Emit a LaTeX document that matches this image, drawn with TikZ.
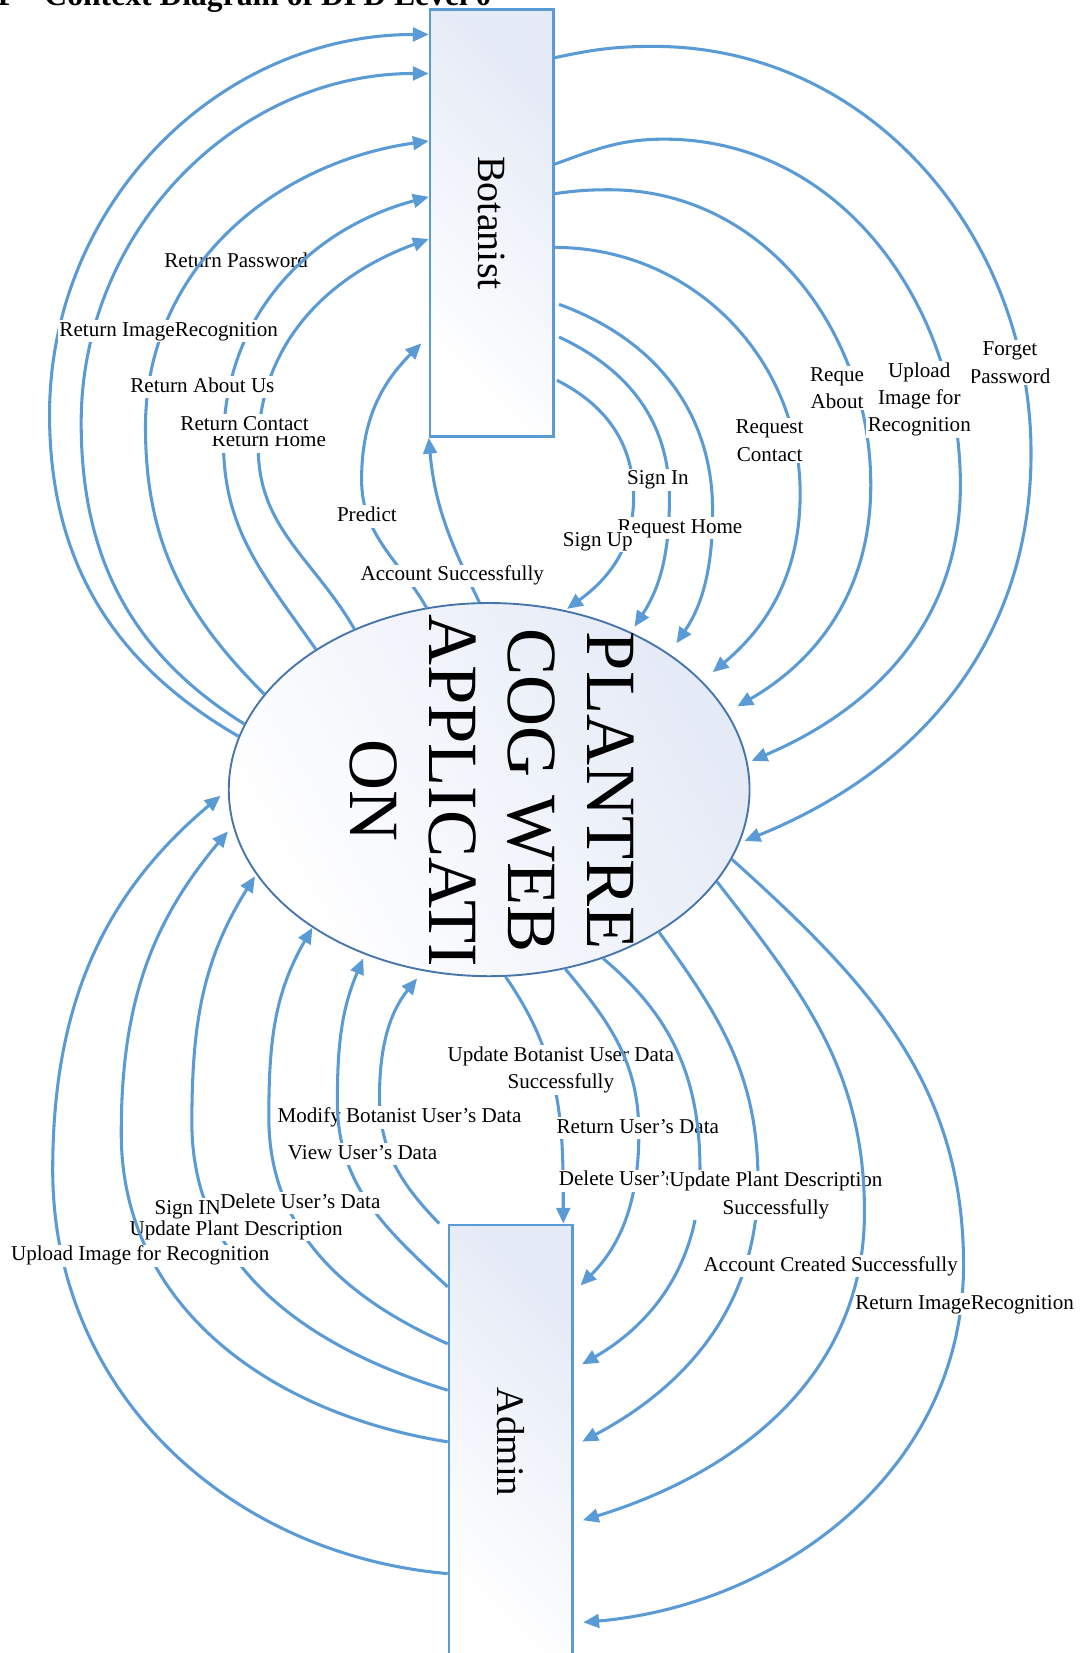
\documentclass[tikz,border=0pt]{standalone}
\usepackage{fontspec}
\setmainfont{Liberation Serif}
\usetikzlibrary{arrows.meta,shapes.geometric}
\definecolor{flowblue}{RGB}{91,155,213}
\definecolor{ellborder}{RGB}{72,118,170}
\definecolor{shadeblue}{RGB}{228,234,246}
\begin{document}
\begin{tikzpicture}[x=1pt,y=1pt,
  flowarrow/.style={draw=flowblue, line width=2.9pt, -{Triangle[length=15pt,width=13pt]}},
  lbl/.style={fill=white, inner sep=1.5pt, font=\fontsize{20}{26}\selectfont, text height=14pt, text depth=4pt},
  lblm/.style={fill=white, inner sep=1.5pt, font=\fontsize{20}{26}\selectfont, align=center},
  entity/.style={draw=flowblue, line width=2.6pt, top color=shadeblue, bottom color=white, shading angle=-45, minimum width=117pt, inner sep=0pt},
]
\useasboundingbox (0,0) rectangle (1026,-1568);
% title (cut by the top edge)
\node[anchor=base west, inner sep=0pt, font=\bfseries\fontsize{30}{36}\selectfont] (titlenum) at (-5,-5) {1};
\node[anchor=base west, inner sep=0pt, font=\bfseries\fontsize{30}{36}\selectfont] (title) at (42,-5) {Context Diagram of DFD Level 0};
% entities and process
\node[entity, minimum height=405pt] (bot) at (466.5,-211.5) {};
\node[rotate=-90, inner sep=0pt, font=\fontsize{38}{44}\selectfont] (botname) at (bot.center) {Botanist};
\node[entity, minimum height=412pt] (adm) at (484.5,-1368) {};
\node[rotate=-90, inner sep=0pt, font=\fontsize{37}{44}\selectfont] (admname) at (adm.center) {Admin};
\node[ellipse, draw=ellborder, line width=1.8pt, top color=shadeblue, bottom color=white, shading angle=-60, minimum width=494pt, minimum height=354pt, inner sep=0pt] (app) at (464,-749) {};
\node[rotate=-90, align=center, inner sep=0pt, font=\fontsize{67}{75}\selectfont] (appname) at (466.5,-750) {PLANTRE\\COG WEB\\APPLICATI\\ON};

% ---------- top left: application -> Botanist ----------
\node[lbl] (lRetPass) at (224,-249) {Return Password};
\draw[flowarrow] (app.168) to[out=150,in=-90] (47,-393) to[out=90,in=180] ([yshift=-25pt]bot.north west);
\draw[flowarrow] (app.165) to[out=148,in=-90] (77,-401) to[out=90,in=180] ([yshift=-62pt]bot.north west);
\draw[flowarrow] (app.157) to[out=135,in=-90] (138,-405) to[out=90,in=188] ([yshift=-126pt]bot.north west);
\draw[flowarrow] (app.141) to[out=125,in=-90] (212,-420) to[out=90,in=195] ([yshift=-179pt]bot.north west);
\draw[flowarrow] (app.130) to[out=120,in=-90] (245,-425) to[out=90,in=200] ([yshift=-219pt]bot.north west);
\draw[flowarrow] (app.109) to[out=120,in=-90] (343,-455) to[out=90,in=225] ([xshift=-7pt,yshift=-318pt]bot.north west);
\draw[flowarrow] (app.93) to[out=116,in=-85] (bot.south west);
\node[lbl] (lRetImg) at (160,-314) {Return ImageRecognition};
\node[lbl] (lRetAbout) at (192,-367) {Return About Us};
\node[lbl] (lRetHome) at (255,-419) {Return Home};
\node[lbl] (lRetContact) at (232,-403) {Return Contact};
\node[lbl] (lPredict) at (348,-490) {Predict};
\node[lbl] (lAccount) at (429,-546) {Account Successfully};

% ---------- top right: Botanist -> application ----------
\draw[flowarrow, shorten >=5pt] ([yshift=-47pt]bot.north east) to[out=12,in=180] (620,-44) to[out=0,in=90] (978,-430) to[out=-90,in=22] (app.348);
\draw[flowarrow, shorten >=4pt] ([yshift=-148pt]bot.north east) to[out=20,in=180] (630,-132) to[out=0,in=90] (911,-460) to[out=-90,in=23] (app.6);
\draw[flowarrow, shorten >=11pt] ([yshift=-176pt]bot.north east) to[out=8,in=180] (578,-180) to[out=0,in=90] (826,-460) to[out=-90,in=30] (app.18);
\draw[flowarrow, shorten >=13pt] ([yshift=-227pt]bot.north east) to[out=0,in=90] (759,-468) to[out=-90,in=40] (app.27);
\draw[flowarrow, shorten >=12pt] ([xshift=4pt,yshift=-281pt]bot.north east) to[out=-20,in=90] (676,-485) to[out=-90,in=56] (app.37);
\draw[flowarrow, shorten >=6pt] ([xshift=4pt,yshift=-312pt]bot.north east) to[out=-25,in=90] (635,-472) to[out=-90,in=57] (app.48);
\draw[flowarrow, shorten >=2pt] ([xshift=2pt,yshift=-353pt]bot.north east) to[out=-27,in=90] (601,-472) to[out=-90,in=36] (app.67);
\node[lblm] (lForget) at (958,-344) {Forget\\Password};
\node[lblm] (lUpload) at (872,-379) {Upload\\Image for\\Recognition};
\node[lblm] (lReqAbout) at (794,-368) {Reque\\About};
\node[lblm] (lReqContact) at (730,-418) {Request\\Contact};
\node[lbl] (lSignIn) at (624,-455) {Sign In};
\node[lbl] (lReqHome) at (645,-501) {Request Home};
\node[lbl] (lSignUp) at (567,-513) {Sign Up};

% ---------- bottom right: application -> Admin ----------
\draw[flowarrow] (app.275) to[out=-55,in=90] ([xshift=-10pt]adm.north east);
\node[lblm] (lUpdBot) at (532,-1015) {Update Botanist User Data\\Successfully};
\draw[flowarrow, shorten >=9pt] (app.293) to[out=-50,in=90] (606,-1075) to[out=-90,in=45] ([yshift=-65pt]adm.north east);
\node[lbl] (lRetUser) at (605,-1070) {Return User’s Data};
\draw[flowarrow, shorten >=9pt] (app.304) to[out=-40,in=90] (664,-1110) to[out=-90,in=30] ([yshift=-138pt]adm.north east);
\node[lbl] (lDelUserR) at (606,-1120) {Delete User’s Data};
\draw[flowarrow, shorten >=9pt] (app.320) to[out=-54,in=90] (719,-1120) to[out=-90,in=28] ([yshift=-211pt]adm.north east);
\node[lblm] (lUpdPlantS) at (736,-1134) {Update Plant Description\\Successfully};
\draw[flowarrow, shorten >=9pt] (app.338) to[out=-52,in=90] (820,-1150) to[out=-90,in=17] ([yshift=-284pt]adm.north east);
\node[lbl] (lAccCreated) at (788,-1201) {Account Created Successfully};
\draw[flowarrow, shorten >=9pt] (app.344) to[out=-42,in=90] (914,-1200) to[out=-90,in=5] ([yshift=-379pt]adm.north east);
\node[lbl] (lRetImgR) at (915,-1237) {Return ImageRecognition};

% ---------- bottom left: Admin -> application ----------
\draw[flowarrow, shorten >=9pt] ([xshift=-8pt]adm.north west) to[out=134,in=-90] (360,-1040) to[out=90,in=231] (app.250);
\node[lbl] (lModify) at (379,-1060) {Modify Botanist User’s Data};
\draw[flowarrow, shorten >=4pt] ([yshift=-60pt]adm.north west) to[out=137,in=-90] (320,-1045) to[out=90,in=247] (app.233);
\node[lbl] (lView) at (344,-1095) {View User’s Data};
\draw[flowarrow] ([yshift=-114pt]adm.north west) to[out=156,in=-90] (255,-1060) to[out=90,in=240] (app.218);
\draw[flowarrow, shorten >=2pt] ([yshift=-158pt]adm.north west) to[out=163,in=-90] (182,-1065) to[out=90,in=238] (app.200);
\node[lbl] (lSignINa) at (178,-1147) {Sign IN};
\node[lbl] (lDelUserL) at (285,-1141) {Delete User’s Data};
\node[lbl] (lUpdPlant) at (224,-1167) {Update Plant Description};
\draw[flowarrow, shorten >=7pt] ([yshift=-207pt]adm.north west) to[out=171,in=-90] (115,-1075) to[out=90,in=230] (app.188);
\draw[flowarrow, shorten >=9pt] ([yshift=-332pt]adm.north west) to[out=175,in=-90] (50,-1110) to[out=90,in=220] (app.180);
\node[lbl] (lUploadL) at (133,-1191) {Upload Image for Recognition};
\end{tikzpicture}
\end{document}
